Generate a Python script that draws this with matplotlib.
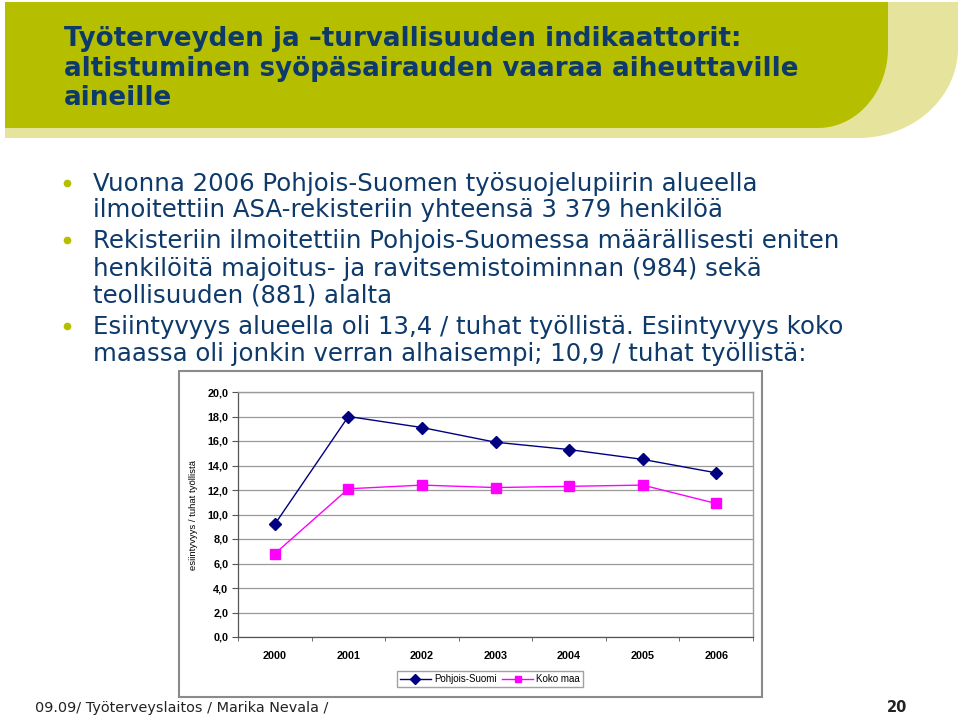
import numpy as np
import matplotlib
matplotlib.use("Agg")
import matplotlib.pyplot as plt
from matplotlib.patches import Polygon, Rectangle

# ---- data ----
years = ['2000', '2001', '2002', '2003', '2004', '2005', '2006']
pohjois_suomi = [9.2, 18.0, 17.1, 15.9, 15.3, 14.5, 13.4]
koko_maa = [6.8, 12.1, 12.4, 12.2, 12.3, 12.4, 10.9]
y_ticks = [0, 2, 4, 6, 8, 10, 12, 14, 16, 18, 20]
series_names = ['Pohjois-Suomi', 'Koko maa']

title_lines = ["Työterveyden ja \u2013turvallisuuden indikaattorit:",
               "altistuminen syöpäsairauden vaaraa aiheuttaville",
               "aineille"]
bullets = [
    ["Vuonna 2006 Pohjois-Suomen työsuojelupiirin alueella",
     "ilmoitettiin ASA-rekisteriin yhteensä 3 379 henkilöä"],
    ["Rekisteriin ilmoitettiin Pohjois-Suomessa määrällisesti eniten",
     "henkilöitä majoitus- ja ravitsemistoiminnan (984) sekä",
     "teollisuuden (881) alalta"],
    ["Esiintyvyys alueella oli 13,4 / tuhat työllistä. Esiintyvyys koko",
     "maassa oli jonkin verran alhaisempi; 10,9 / tuhat työllistä:"],
]
footer_text = "09.09/ Työterveyslaitos / Marika Nevala /"
page_no = "20"
y_label = "esiintyvyys / tuhat työllistä"

W, H = 960, 716
fig = plt.figure(figsize=(W / 100, H / 100), dpi=100)
fig.patch.set_facecolor('white')

bg = fig.add_axes([0, 0, 1, 1])
bg.set_xlim(0, W)
bg.set_ylim(H, 0)
bg.axis('off')


def rounded_box(x0, y0, x1, y1, rx, ry):
    t = np.linspace(0, np.pi / 2, 40)
    cx, cy = x1 - rx, y1 - ry
    arc = np.column_stack([cx + rx * np.cos(t), cy + ry * np.sin(t)])
    pts = [(x0, y0), (x1, y0)] + arc.tolist() + [(x0, y1)]
    return pts


bg.add_patch(Polygon(rounded_box(5, 2, 958, 138, 100, 90), closed=True,
                     facecolor='#e6e39c', edgecolor='none', zorder=1))
bg.add_patch(Polygon(rounded_box(5, 2, 888, 128, 70, 80), closed=True,
                     facecolor='#b5bf00', edgecolor='none', zorder=2))

navy = '#0e3a6b'
for i, line in enumerate(title_lines):
    bg.text(64, 46 + i * 29.5, line, fontsize=18.8, fontweight='bold',
            color=navy, family='DejaVu Sans', va='baseline', ha='left', zorder=3)

bullet_y = [[191, 217], [248, 276, 302], [334, 361]]
for lines, ys in zip(bullets, bullet_y):
    bg.plot([67], [ys[0] - 8], marker='o', markersize=4.5, color='#b5bf00',
            linestyle='none', zorder=3)
    for line, yy in zip(lines, ys):
        bg.text(93, yy, line, fontsize=17.6, color=navy, family='DejaVu Sans',
                va='baseline', ha='left', zorder=3)

bg.text(35, 712, footer_text, fontsize=10.4, color='#222222', family='DejaVu Sans',
        va='baseline', ha='left')
bg.text(907, 712, page_no, fontsize=10.5, fontweight='bold', color='#222222',
        family='DejaVu Sans', va='baseline', ha='right')

# chart frame
bg.add_patch(Rectangle((179, 371), 583, 326, facecolor='white',
                       edgecolor='#8a8a8a', linewidth=1.5, zorder=3))

# ---- chart ----
ax = fig.add_axes([238 / W, 1 - 637 / H, 515 / W, 245 / H], zorder=5)
x = np.arange(len(years))
ax.plot(x, pohjois_suomi, color='#000080', linewidth=1.0, marker='D',
        markersize=6.5, markerfacecolor='#000080', markeredgecolor='#000080',
        label=series_names[0], zorder=4)
ax.plot(x, koko_maa, color='#ff00ff', linewidth=1.0, marker='s',
        markersize=7, markerfacecolor='#ff00ff', markeredgecolor='#ff00ff',
        label=series_names[1], zorder=4)

ax.set_xlim(-0.5, len(years) - 0.5)
ax.set_ylim(0, 20)
ax.set_yticks(y_ticks)
ax.set_yticklabels([f"{v:.1f}".replace('.', ',') for v in y_ticks],
                   fontsize=7.8, fontweight='bold', family='Liberation Sans')
ax.set_xticks(x)
ax.set_xticklabels(years, fontsize=7.8, fontweight='bold', family='Liberation Sans')
ax.set_xticks(np.arange(-0.5, len(years), 1), minor=True)
ax.tick_params(axis='x', which='major', length=0, pad=10)
ax.tick_params(axis='x', which='minor', length=3, direction='out', color='#555555')
ax.tick_params(axis='y', length=4, direction='out', color='#555555', pad=3)
ax.grid(axis='y', color='#9a9a9a', linewidth=0.9)
ax.set_axisbelow(True)
for s in ['top', 'right']:
    ax.spines[s].set_color('#9a9a9a')
    ax.spines[s].set_linewidth(1.0)
for s in ['left', 'bottom']:
    ax.spines[s].set_color('#555555')
    ax.spines[s].set_linewidth(0.9)

ax.set_ylabel(y_label, fontsize=6.8, family='Liberation Sans')
ax.yaxis.set_label_coords(-(238 - 198) / 515, 0.5)

leg = ax.legend(loc='center', bbox_to_anchor=((490 - 238) / 515, -(679 - 637) / 245),
                ncol=2, frameon=True, fancybox=False,
                edgecolor='#8a8a8a', handlelength=3.2, columnspacing=0.6,
                handletextpad=0.3, borderpad=0.35, prop={'family': 'Liberation Sans', 'size': 7})
leg.get_frame().set_linewidth(1.0)
for h in leg.legend_handles:
    h.set_markersize(5)

fig.savefig('out.png', dpi=100, facecolor='white')
